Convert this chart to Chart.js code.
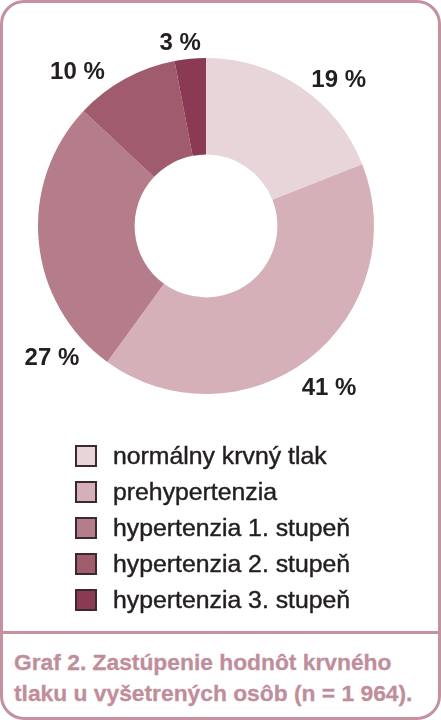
<!DOCTYPE html>
<html>
<head>
<meta charset="utf-8">
<script src="https://cdn.jsdelivr.net/npm/chart.js@4/dist/chart.umd.min.js"></script>
<style>
  html, body { margin: 0; padding: 0; background: #fff; }
  #frame { position: relative; width: 441px; height: 720px; box-sizing: border-box;
           border: 3px solid #c4919f; border-radius: 24px; overflow: hidden; }
  #chartBox { position: absolute; left: -3px; top: -3px; width: 441px; height: 440px; }
  #divider { position: absolute; left: 0; right: 0; top: 628px; height: 3px; background: #c4919f; }
  #legend { position: absolute; left: 72px; top: 435px; font-family: "Liberation Sans", Arial, sans-serif;
            font-size: 24.8px; color: #231f20; -webkit-text-stroke: 0.45px #231f20; }
  .row { display: flex; align-items: center; height: 36px; }
  .sw { width: 18px; height: 18px; border: 2px solid #3a2a2f; margin-right: 16px; }
  #caption { position: absolute; left: 11px; top: 644px; font-family: "Liberation Sans", Arial, sans-serif;
             font-weight: bold; font-size: 22.8px; line-height: 31px; color: #c08e9b;
             -webkit-text-stroke: 0.3px #c08e9b; }
</style>
</head>
<body>
<div id="frame">
  <div id="chartBox"><canvas id="c"></canvas></div>
  <div id="divider"></div>
  <div id="legend"></div>
  <div id="caption">Graf 2. Zastúpenie hodnôt krvného<br>tlaku u vyšetrených osôb (n = 1 964).</div>
</div>
<script>
const categories = ["normálny krvný tlak", "prehypertenzia", "hypertenzia 1. stupeň", "hypertenzia 2. stupeň", "hypertenzia 3. stupeň"];
const percentValues = [19, 41, 27, 10, 3];
const valueLabels = ["19 %", "41 %", "27 %", "10 %", "3 %"];
const sliceColors = ["#e8d5da", "#d6b0b8", "#b47d89", "#a05c6c", "#8b3a53"];

// label placement: angle shift (deg) from slice middle, distance as factor of outer radius
const labelAngleShift = [8, 0.4, -35, -11, -2.6];
const labelDistance = [1.176, 1.206, 1.204, 1.196, 1.106];

const legend = document.getElementById('legend');
categories.forEach((c, i) => {
  const r = document.createElement('div'); r.className = 'row';
  const s = document.createElement('div'); s.className = 'sw'; s.style.background = sliceColors[i];
  const t = document.createElement('span'); t.textContent = c;
  r.appendChild(s); r.appendChild(t); legend.appendChild(r);
});

const labelPlugin = {
  id: 'sliceLabels',
  afterDatasetsDraw(chart) {
    const ctx = chart.ctx;
    const meta = chart.getDatasetMeta(0);
    ctx.save();
    ctx.font = 'bold 24px "Liberation Sans", Arial, sans-serif';
    ctx.fillStyle = '#231f20';
    ctx.textAlign = 'center';
    ctx.textBaseline = 'middle';
    meta.data.forEach((arc, i) => {
      const p = arc.getProps(['x', 'y', 'startAngle', 'endAngle', 'outerRadius'], true);
      const mid = (p.startAngle + p.endAngle) / 2 + labelAngleShift[i] * Math.PI / 180;
      const d = p.outerRadius * labelDistance[i];
      ctx.fillText(valueLabels[i], p.x + Math.cos(mid) * d, p.y + Math.sin(mid) * d + 1);
    });
    ctx.restore();
  }
};

new Chart(document.getElementById('c'), {
  type: 'doughnut',
  data: {
    labels: categories,
    datasets: [{ data: percentValues, backgroundColor: sliceColors, borderWidth: 0, hoverOffset: 0 }]
  },
  options: {
    responsive: true,
    maintainAspectRatio: false,
    animation: false,
    cutout: '42.5%',
    layout: { padding: { left: 38, right: 67, top: 58, bottom: 46 } },
    plugins: { legend: { display: false }, tooltip: { enabled: false } }
  },
  plugins: [labelPlugin]
});
</script>
</body>
</html>
